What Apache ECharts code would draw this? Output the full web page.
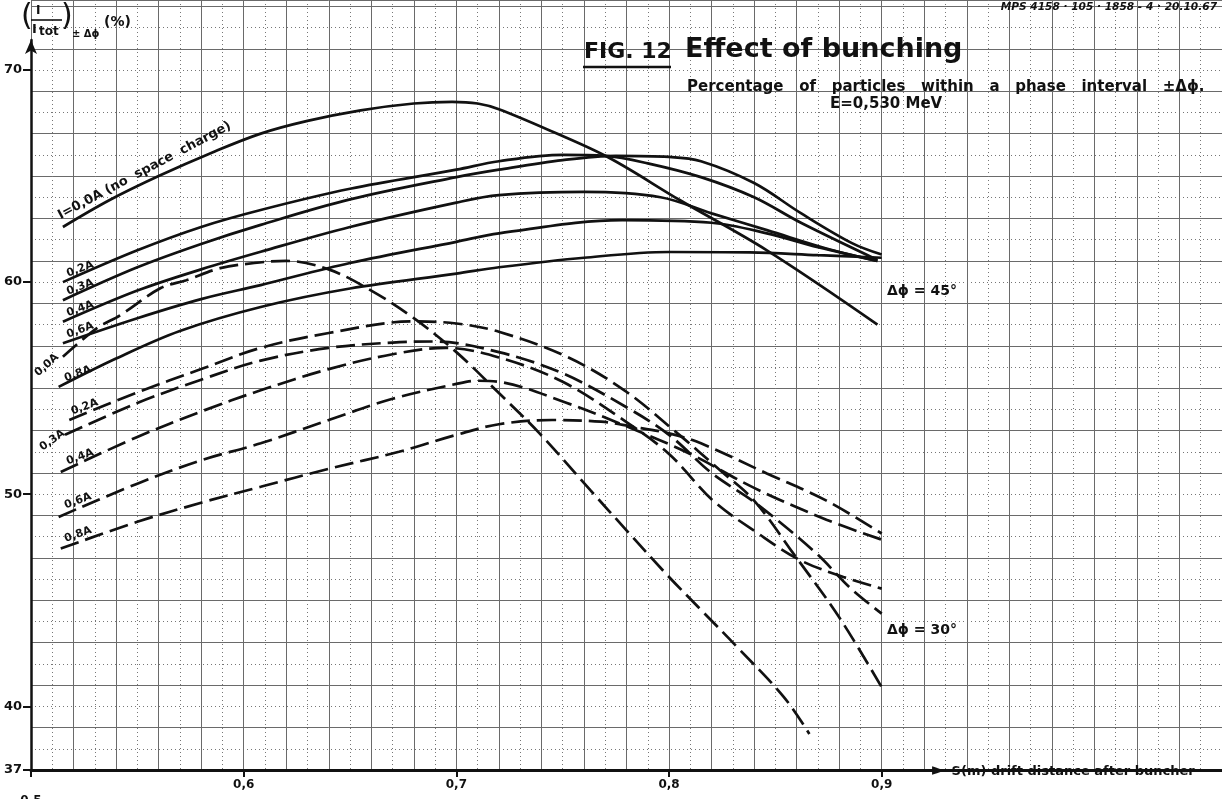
<!DOCTYPE html>
<html><head><meta charset="utf-8">
<script src="https://cdn.jsdelivr.net/npm/echarts@6/dist/echarts.min.js"></script>
<style>html,body{margin:0;padding:0;background:#fff}#c{width:1222px;height:799px}</style>
</head><body><div id="c"></div>
<script>
// ---------- data ----------
const xTickValues = [0.5, 0.6, 0.7, 0.8, 0.9];
const yTickValues = [37, 40, 50, 60, 70];

// Δφ = 45° (solid curves)
const phi45_I00 = [[0.515,62.6],[0.537,63.87],[0.56,65.0],[0.585,66.1],[0.608,67.0],[0.63,67.6],[0.655,68.1],[0.68,68.42],[0.698,68.5],[0.71,68.42],[0.72,68.15],[0.745,67.1],[0.772,65.85],[0.805,63.87],[0.846,61.5],[0.898,58.0]];
const phi45_I02 = [[0.515,60.0],[0.55,61.5],[0.58,62.6],[0.608,63.4],[0.65,64.4],[0.7,65.3],[0.72,65.7],[0.75,66.0],[0.77,65.95],[0.79,65.6],[0.815,64.95],[0.84,64.0],[0.862,62.8],[0.898,61.05]];
const phi45_I03 = [[0.515,59.15],[0.55,60.7],[0.58,61.8],[0.608,62.7],[0.65,63.9],[0.7,64.95],[0.72,65.3],[0.75,65.75],[0.775,65.95],[0.8,65.9],[0.815,65.7],[0.84,64.67],[0.862,63.25],[0.886,61.84],[0.9,61.3]];
const phi45_I04 = [[0.515,58.13],[0.55,59.6],[0.58,60.6],[0.608,61.43],[0.65,62.6],[0.7,63.75],[0.72,64.1],[0.76,64.25],[0.796,64.0],[0.82,63.24],[0.846,62.45],[0.877,61.5],[0.898,61.0]];
const phi45_I06 = [[0.515,57.12],[0.55,58.3],[0.58,59.2],[0.608,59.86],[0.65,60.9],[0.7,61.9],[0.72,62.3],[0.778,62.92],[0.82,62.8],[0.846,62.3],[0.87,61.65],[0.898,61.0]];
const phi45_I08 = [[0.513,55.06],[0.54,56.4],[0.57,57.7],[0.608,58.83],[0.65,59.7],[0.7,60.4],[0.72,60.7],[0.76,61.15],[0.8,61.42],[0.838,61.4],[0.87,61.27],[0.9,61.15]];

// Δφ = 30° (dashed curves)
const phi30_I00 = [[0.515,56.48],[0.531,57.83],[0.542,58.44],[0.561,59.72],[0.573,60.09],[0.589,60.66],[0.605,60.9],[0.62,61.0],[0.64,60.6],[0.66,59.6],[0.68,58.3],[0.7,56.7],[0.72,54.77],[0.739,52.88],[0.763,50.19],[0.78,48.3],[0.8,46.1],[0.816,44.45],[0.832,42.8],[0.854,40.44],[0.866,38.7]];
const phi30_I02 = [[0.518,53.5],[0.55,54.8],[0.58,55.9],[0.608,56.9],[0.64,57.6],[0.68,58.15],[0.7,58.05],[0.72,57.66],[0.752,56.48],[0.779,54.9],[0.804,52.87],[0.824,51.13],[0.84,49.7],[0.8585,47.2],[0.88,44.2],[0.9,40.9]];
const phi30_I03 = [[0.516,52.8],[0.55,54.3],[0.58,55.4],[0.608,56.3],[0.64,56.9],[0.67,57.15],[0.69,57.2],[0.72,56.7],[0.75,55.7],[0.78,54.1],[0.8,52.8],[0.82,51.0],[0.8412,49.55],[0.8694,47.2],[0.885,45.6],[0.9,44.37]];
const phi30_I04 = [[0.514,51.05],[0.55,52.7],[0.58,53.9],[0.608,54.9],[0.64,55.9],[0.67,56.6],[0.695,56.9],[0.72,56.45],[0.75,55.3],[0.78,53.4],[0.8,51.9],[0.8207,49.7],[0.8412,48.2],[0.8615,46.9],[0.882,46.1],[0.9,45.55]];
const phi30_I06 = [[0.513,48.93],[0.55,50.5],[0.58,51.6],[0.608,52.4],[0.64,53.5],[0.67,54.5],[0.7,55.2],[0.71,55.35],[0.72,55.3],[0.752,54.3],[0.78,53.2],[0.81,51.9],[0.84,50.3],[0.874,48.8],[0.9,47.86]];
const phi30_I08 = [[0.514,47.44],[0.55,48.7],[0.58,49.6],[0.608,50.35],[0.64,51.2],[0.673,52.0],[0.7,52.8],[0.72,53.3],[0.745,53.5],[0.768,53.42],[0.782,53.2],[0.8,52.87],[0.815,52.4],[0.846,50.98],[0.874,49.7],[0.9,48.15]];

const solidNames = ['I=0,0A (no  space  charge)','0,2A','0,3A','0,4A','0,6A','0,8A'];
const dashedNames = ['0,0A','0,2A','0,3A','0,4A','0,6A','0,8A'];
const solidSets = [phi45_I00, phi45_I02, phi45_I03, phi45_I04, phi45_I06, phi45_I08];
const dashedSets = [phi30_I00, phi30_I02, phi30_I03, phi30_I04, phi30_I06, phi30_I08];

// ---------- chart ----------
const FONT = 'DejaVu Sans';
const INK = '#111';
const chart = echarts.init(document.getElementById('c'), null, {renderer: 'canvas'});

const series = [];
solidSets.forEach((d, i) => series.push({
  name: 'phi45 ' + solidNames[i], type: 'line', xAxisIndex: 1, yAxisIndex: 1,
  data: d, smooth: 0.35, symbol: 'none', silent: true, z: 5,
  lineStyle: {color: INK, width: 2.7}
}));
dashedSets.forEach((d, i) => series.push({
  name: 'phi30 ' + dashedNames[i], type: 'line', xAxisIndex: 1, yAxisIndex: 1,
  data: d, smooth: 0.35, symbol: 'none', silent: true, z: 5,
  lineStyle: {color: INK, width: 2.7, type: [19, 7]}
}));

const X_MIN = 0.5, X_MAX = 1.06, Y_MIN = 37, Y_MAX = 73.3;

chart.setOption({
  animation: false,
  backgroundColor: '#fff',
  textStyle: {fontFamily: FONT},
  grid: [
    {left: 31, right: 0, top: 0, bottom: 29, containLabel: false, outerBoundsMode: 'none'},
    {left: 31, right: 0, top: 40, bottom: 29, containLabel: false, outerBoundsMode: 'none'}
  ],
  xAxis: [
    {gridIndex: 0, type: 'value', min: X_MIN, max: X_MAX, interval: 0.02, position: 'bottom',
     axisLine: {show: false}, axisTick: {show: false}, axisLabel: {show: false},
     splitLine: {show: true, lineStyle: {color: '#6a6a6a', width: 1}},
     minorTick: {show: false, splitNumber: 2},
     minorSplitLine: {show: true, lineStyle: {color: '#767676', width: 1, type: [1, 3]}}},
    {gridIndex: 0, type: 'value', min: X_MIN, max: X_MAX, interval: 0.1, position: 'bottom',
     axisLine: {show: true, onZero: false, lineStyle: {color: INK, width: 3}},
     axisTick: {show: true, customValues: xTickValues, length: 7, lineStyle: {color: INK, width: 2}},
     axisLabel: {show: true, customValues: xTickValues, margin: 9, color: INK, fontFamily: FONT,
       fontWeight: 'bold', fontSize: 12,
       formatter: v => v > 0.95 ? '' : (v < 0.55 ? '{low|0,5}' : v.toFixed(1).replace('.', ',')),
       rich: {low: {padding: [16, 0, 0, 0], fontWeight: 'bold', fontSize: 12, color: INK, fontFamily: FONT}}},
     splitLine: {show: false},
     name: '{a|►} S(m) drift distance after buncher', nameLocation: 'end', nameGap: -290,
     nameTextStyle: {color: INK, fontFamily: FONT, fontWeight: 'bold', fontSize: 13, padding: [4, 0, 0, 0],
       rich: {a: {fontSize: 17, color: INK, padding: [0, 2, 2, 0]}}}},
    {gridIndex: 1, type: 'value', min: X_MIN, max: X_MAX, position: 'bottom', show: false}
  ],
  yAxis: [
    {gridIndex: 0, type: 'value', min: Y_MIN, max: Y_MAX, interval: 2, position: 'left',
     axisLine: {show: false}, axisTick: {show: false}, axisLabel: {show: false},
     splitLine: {show: true, lineStyle: {color: '#6a6a6a', width: 1}},
     minorTick: {show: false, splitNumber: 2},
     minorSplitLine: {show: true, lineStyle: {color: '#767676', width: 1, type: [1, 3]}}},
    {gridIndex: 0, type: 'value', min: Y_MIN, max: Y_MAX, interval: 1, position: 'left',
     axisLine: {show: false},
     axisTick: {show: true, customValues: yTickValues, length: 8, lineStyle: {color: INK, width: 2}},
     axisLabel: {show: true, customValues: yTickValues, margin: 9, color: INK, fontFamily: FONT,
       fontWeight: 'bold', fontSize: 13,
       formatter: v => (yTickValues.indexOf(Math.round(v)) >= 0 && Math.abs(v - Math.round(v)) < 1e-6) ? String(Math.round(v)) : ''},
     splitLine: {show: false}},
    {gridIndex: 1, type: 'value', min: Y_MIN, max: 71.43, position: 'left',
     axisLine: {show: true, onZero: false, symbol: ['none', 'arrow'], symbolSize: [9, 14],
       lineStyle: {color: INK, width: 2.5}},
     axisTick: {show: false}, axisLabel: {show: false}, splitLine: {show: false}}
  ],
  series: series
});

// ---------- annotations (layout computed from the axes) ----------
const toPx = p => chart.convertToPixel({xAxisIndex: 1, yAxisIndex: 1}, p);
const deg = a => a * Math.PI / 180;
const graphics = [];
function txt(x, y, text, o) {
  o = o || {};
  graphics.push({type: 'text', x: x, y: y, rotation: o.rot || 0, z: 20,
    style: {text: text, fill: INK, font: (o.style || '') + ' ' + (o.weight || 'bold') + ' ' + (o.size || 12) + 'px "' + (o.family || FONT) + '"',
      textAlign: o.align || 'left', textVerticalAlign: o.valign || 'bottom'}});
}

// curve labels near the start of each curve
const solidLab = [
  {dx: -1, dy: -5, rot: 28, size: 13},
  {dx: 6, dy: -3, rot: 20, size: 11},
  {dx: 6, dy: -3, rot: 20, size: 11},
  {dx: 6, dy: -3, rot: 20, size: 11},
  {dx: 6, dy: -3, rot: 20, size: 11},
  {dx: 8, dy: -3, rot: 20, size: 11}
];
solidSets.forEach((d, i) => {
  const p = toPx(d[0]); const L = solidLab[i];
  txt(p[0] + L.dx, p[1] + L.dy, solidNames[i], {rot: deg(L.rot), size: L.size});
});
const dashedLab = [
  {dx: -2, dy: 3, rot: 42, size: 11, align: 'right'},
  {dx: 4, dy: -3, rot: 20, size: 11},
  {dx: 2, dy: 2, rot: 35, size: 11, align: 'right'},
  {dx: 8, dy: -5, rot: 20, size: 11},
  {dx: 8, dy: -6, rot: 20, size: 11},
  {dx: 6, dy: -4, rot: 20, size: 11}
];
dashedSets.forEach((d, i) => {
  const p = toPx(d[0]); const L = dashedLab[i];
  txt(p[0] + L.dx, p[1] + L.dy, dashedNames[i], {rot: deg(L.rot), size: L.size, align: L.align});
});

// phase labels at the right end of the families
txt(887, 291, 'Δϕ = 45°', {size: 14, valign: 'middle'});
txt(887, 630, 'Δϕ = 30°', {size: 14, valign: 'middle'});

// titles
txt(584, 63, 'FIG. 12', {size: 22});
graphics.push({type: 'line', z: 20, shape: {x1: 583, y1: 67, x2: 671, y2: 67}, style: {stroke: INK, lineWidth: 2.5}});
txt(685, 63, 'Effect of bunching', {size: 27});
txt(687, 87, 'Percentage   of   particles   within   a   phase   interval   ±Δϕ.', {size: 15, valign: 'middle'});
txt(830, 104, 'E=0,530 MeV', {size: 15, valign: 'middle'});
txt(1217, 13, 'MPS 4158 · 105 · 1858 - 4 · 20.10.67', {size: 10.6, style: 'italic', align: 'right'});

// y-axis title (I / Itot) ±Δϕ (%)
txt(21, 17, '(', {size: 30, weight: 'normal', valign: 'middle'});
txt(36, 17, 'I', {size: 12});
graphics.push({type: 'line', z: 20, shape: {x1: 31, y1: 20, x2: 62, y2: 20}, style: {stroke: INK, lineWidth: 1.6}});
txt(32, 36, 'I', {size: 13});
txt(39, 38, 'tot', {size: 12});
txt(61, 17, ')', {size: 30, weight: 'normal', valign: 'middle'});
txt(72, 39, '± Δϕ', {size: 10});
txt(104, 29, '(%)', {size: 14});

chart.setOption({graphic: graphics});
</script>
</body></html>
